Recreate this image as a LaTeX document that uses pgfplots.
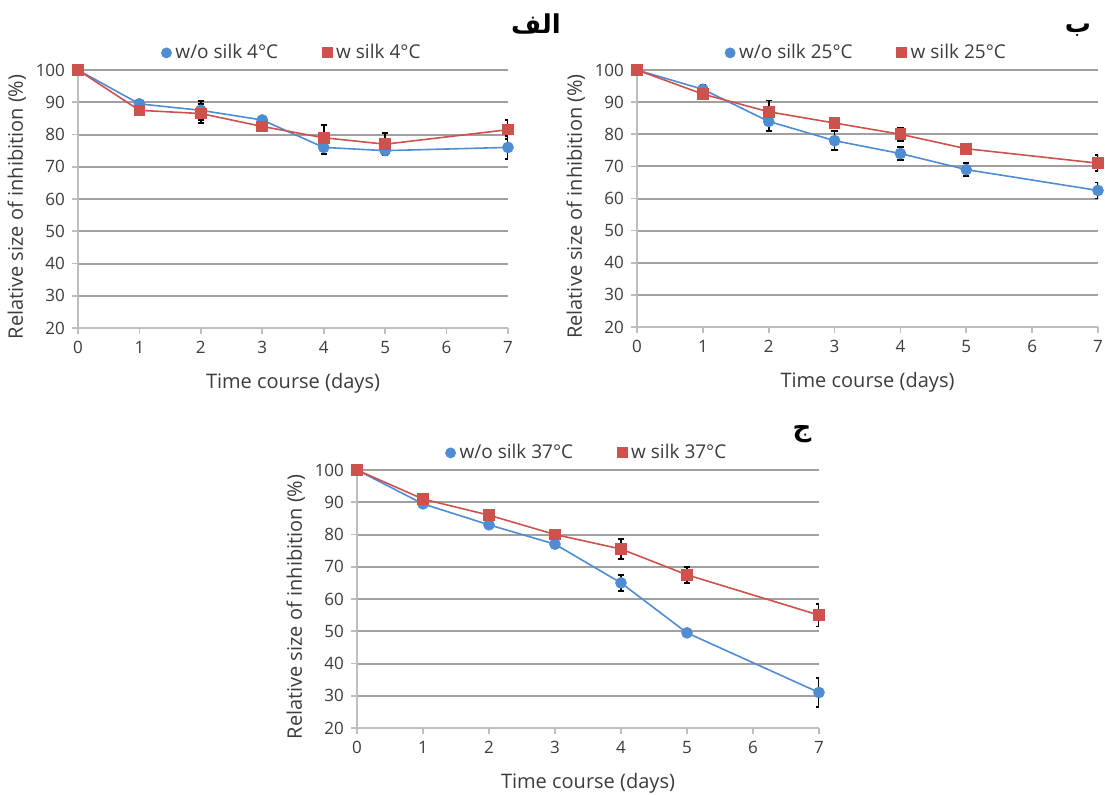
\documentclass[border=0pt]{standalone}
\usepackage{fontspec}
\setmainfont{Open Sans}
\newfontfamily\arabicfont[Script=Arabic]{DejaVu Sans}
\TeXXeTstate=1
\usepackage{pgfplots}
\usepackage{pgfplotstable}
\pgfplotsset{compat=1.18}

\definecolor{sblue}{RGB}{80,140,210}
\definecolor{sred}{RGB}{205,82,78}
\definecolor{gridc}{RGB}{160,160,160}
\definecolor{axc}{RGB}{190,190,190}
\definecolor{txtc}{RGB}{60,60,60}

% 4 C
\pgfplotstableread{
x y e
0 100 0
1 89.5 1
2 87.5 3
3 84.5 1
4 76 2
5 75 1.5
7 76 3.5
}\aNo
\pgfplotstableread{
x y e
0 100 0
1 87.5 1.5
2 86.5 3
3 82.5 1
4 79 4
5 77 3.5
7 81.5 3
}\aW
% 25 C
\pgfplotstableread{
x y e
0 100 0
1 94 1.5
2 84 3
3 78 3
4 74 2
5 69 2
7 62.5 2.5
}\bNo
\pgfplotstableread{
x y e
0 100 0
1 92.5 1.5
2 87 3.5
3 83.5 1
4 80 2
5 75.5 1
7 71 2.5
}\bW
% 37 C
\pgfplotstableread{
x y e
0 100 0
1 89.5 1
2 83 1
3 77 1
4 65 2.5
5 49.5 1
7 31 4.5
}\cNo
\pgfplotstableread{
x y e
0 100 0
1 91 1
2 86 1.5
3 80 1.5
4 75.5 3
5 67.5 2.5
7 55 3.5
}\cW

\pgfplotsset{
  panel/.style={
    scale only axis, anchor=south west,
    xmin=0, xmax=7, ymin=20, ymax=100,
    xtick={0,...,7}, ytick={20,30,...,100},
    axis x line*=bottom, axis y line*=left,
    axis line style={axc, line width=0.8pt, -},
    ymajorgrids, grid style={gridc, line width=1pt},
    tick align=outside, major tick length=3pt,
    tick style={axc, line width=0.8pt},
    /pgf/number format/assume math mode=true,
    tick label style={font=\fontsize{8.5}{10}\selectfont, text=txtc},
    label style={font=\fontsize{10}{12}\selectfont, text=txtc},
    xlabel={Time course (days)},
    ylabel={Relative size of inhibition (\%)},
    xlabel style={yshift=-3pt},
    ylabel style={yshift=-2pt, xshift=-4pt},
    legend style={draw=none, fill=none, at={(0.5,1.0)}, anchor=south,
      legend columns=2, font=\fontsize{9.5}{11}\selectfont, text=txtc,
      /tikz/every even column/.append style={column sep=20pt},
      legend cell align=left},
  },
  ser/.style={line width=0.8pt, error bars/.cd, y dir=both, y explicit,
    error bar style={black, line width=0.9pt},
    error mark options={rotate=90, black, mark size=1.6pt, line width=0.9pt}},
  bl/.style={sblue, mark=*, mark size=2.5pt, mark options={fill=sblue, draw=sblue}},
  rd/.style={sred, mark=square*, mark size=2.5pt, mark options={fill=sred, draw=sred}},
}

\begin{document}
\begin{tikzpicture}
\useasboundingbox (0pt,0pt) rectangle (552.5pt,397pt);

\begin{axis}[panel, at={(39pt,233pt)}, width=215pt, height=129pt]
\addlegendimage{only marks, bl}
\addlegendentry{w/o silk 4°C}
\addlegendimage{only marks, rd}
\addlegendentry{w silk 4°C}
\addplot[bl, ser] table[x=x, y=y, y error=e] {\aNo};
\addplot[rd, ser] table[x=x, y=y, y error=e] {\aW};
\end{axis}

\begin{axis}[panel, at={(318.5pt,233.5pt)}, width=230.5pt, height=128.5pt]
\addlegendimage{only marks, bl}
\addlegendentry{w/o silk 25°C}
\addlegendimage{only marks, rd}
\addlegendentry{w silk 25°C}
\addplot[bl, ser] table[x=x, y=y, y error=e] {\bNo};
\addplot[rd, ser] table[x=x, y=y, y error=e] {\bW};
\end{axis}

\begin{axis}[panel, at={(178.5pt,33pt)}, width=231pt, height=129pt]
\addlegendimage{only marks, bl}
\addlegendentry{w/o silk 37°C}
\addlegendimage{only marks, rd}
\addlegendentry{w silk 37°C}
\addplot[bl, ser] table[x=x, y=y, y error=e] {\cNo};
\addplot[rd, ser] table[x=x, y=y, y error=e] {\cW};
\end{axis}

\node[font=\arabicfont\fontsize{13}{15}\selectfont\bfseries, text=black] at (268pt,385pt) {\beginR الف\endR};
\node[font=\arabicfont\fontsize{13}{15}\selectfont\bfseries, text=black] at (539pt,382pt) {\beginR ب\endR};
\node[font=\arabicfont\fontsize{13}{15}\selectfont\bfseries, text=black] at (401pt,180pt) {\beginR ج\endR};
\end{tikzpicture}
\end{document}
